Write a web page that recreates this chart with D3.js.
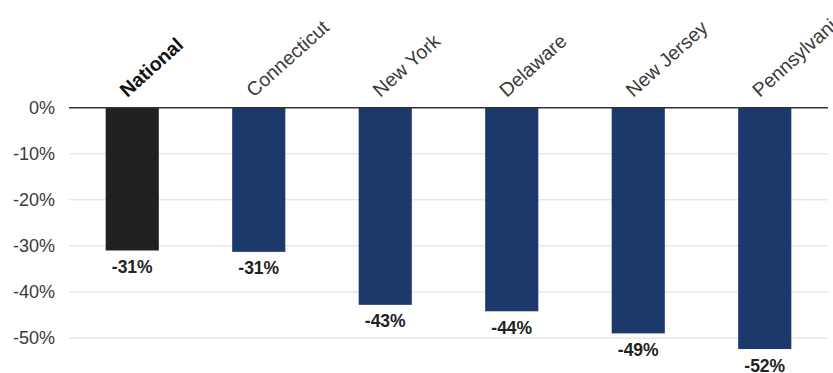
<!DOCTYPE html>
<html>
<head>
<meta charset="utf-8">
<script src="https://cdn.jsdelivr.net/npm/d3@7"></script>
<style>
	body { margin: 0; background: #fff; }
	svg { display: block; font-family: "Liberation Sans", Arial, sans-serif; }
</style>
</head>
<body>
<div id="chart"></div>
<script>
// Data
var regions = ['National', 'Connecticut', 'New York', 'Delaware', 'New Jersey', 'Pennsylvania'];
var changes = [-31.0, -31.3, -42.8, -44.2, -49.0, -52.4];
var yTicks = [0, -10, -20, -30, -40, -50];

var width = 833, height = 373;

var svg = d3.select('#chart').append('svg')
	.attr('width', width)
	.attr('height', height);

var x = d3.scaleBand()
	.domain(regions)
	.range([69, 828])
	.paddingInner(0.58)
	.paddingOuter(0.29);

var y = d3.scaleLinear()
	.domain([-50, 0])
	.range([338, 107.7]);

// Gridlines
svg.append('g').selectAll('line')
	.data(yTicks.filter(function(d) { return d !== 0; }))
	.enter().append('line')
	.attr('x1', 69)
	.attr('x2', 828)
	.attr('y1', function(d) { return y(d); })
	.attr('y2', function(d) { return y(d); })
	.attr('stroke', '#dcdcdc')
	.attr('stroke-width', 1);

// Y axis labels
var yAxis = d3.axisLeft(y)
	.tickValues(yTicks)
	.tickSize(0)
	.tickPadding(14)
	.tickFormat(function(d) { return d + '%'; });

var yg = svg.append('g')
	.attr('transform', 'translate(69,0)')
	.call(yAxis);
yg.select('.domain').remove();
yg.selectAll('text')
	.attr('font-size', 18)
	.attr('font-family', '"Liberation Sans", Arial, sans-serif')
	.attr('fill', '#3a3a3a');

// Bars
var data = regions.map(function(r, i) { return { region: r, value: changes[i] }; });

svg.append('g').selectAll('rect')
	.data(data)
	.enter().append('rect')
	.attr('x', function(d) { return x(d.region); })
	.attr('y', y(0))
	.attr('width', x.bandwidth())
	.attr('height', function(d) { return y(d.value) - y(0); })
	.attr('fill', function(d, i) { return i === 0 ? '#22211f' : '#1b3a6b'; });

// Zero line
svg.append('line')
	.attr('x1', 69)
	.attr('x2', 828)
	.attr('y1', y(0))
	.attr('y2', y(0))
	.attr('stroke', '#333')
	.attr('stroke-width', 1.5);

// Value labels
svg.append('g').selectAll('text')
	.data(data)
	.enter().append('text')
	.attr('x', function(d) { return x(d.region) + x.bandwidth() / 2; })
	.attr('y', function(d) { return y(d.value) + 22.5; })
	.attr('text-anchor', 'middle')
	.attr('font-size', 17.5)
	.attr('font-weight', 'bold')
	.attr('fill', '#222')
	.text(function(d) { return Math.round(d.value) + '%'; });

// Category labels
svg.append('g').selectAll('text')
	.data(regions)
	.enter().append('text')
	.attr('transform', function(d) {
		return 'translate(' + (x(d) + x.bandwidth() / 2 - 5) + ',98) rotate(-42)';
	})
	.attr('font-size', 19.5)
	.attr('font-weight', function(d, i) { return i === 0 ? 'bold' : 'normal'; })
	.attr('fill', function(d, i) { return i === 0 ? '#111' : '#3a3a3a'; })
	.text(function(d) { return d; });
</script>
</body>
</html>
